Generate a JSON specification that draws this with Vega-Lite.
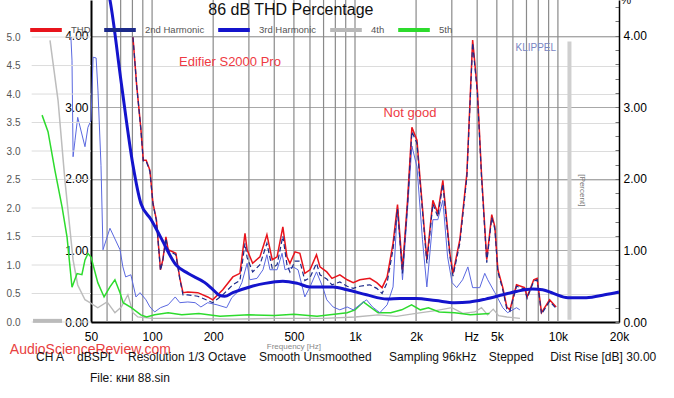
{
"$schema":"https://vega.github.io/schema/vega-lite/v6.json",
"width":528,"height":322,
"autosize":{"type":"none"},
"padding":{"left":91,"top":0,"right":55,"bottom":76},
"background":"#ffffff",
"config":{"view":{"stroke":null},"font":"Liberation Sans","axis":{"labelFont":"Liberation Sans"},"legend":{"labelFont":"Liberation Sans"}},
"datasets":{
"vgrid":[{"f":60},{"f":70},{"f":80},{"f":90},{"f":100},{"f":200},{"f":300},{"f":400},{"f":500},{"f":600},{"f":700},{"f":800},{"f":900},{"f":1000},{"f":2000},{"f":3000},{"f":4000},{"f":5000},{"f":6000},{"f":7000},{"f":8000},{"f":9000},{"f":10000}],
"bar":[{"f":11400,"v":0.03,"v2":3.92}],
"h4":[{"f":50,"v":0.26},{"f":54,"v":0.2},{"f":60,"v":0.28},{"f":65.6,"v":0.13},{"f":70.5,"v":0.21},{"f":76,"v":0.38},{"f":80.5,"v":0.13},{"f":85,"v":0.07},{"f":100,"v":0.05},{"f":150,"v":0.05},{"f":250,"v":0.04},{"f":400,"v":0.05},{"f":700,"v":0.05},{"f":1000,"v":0.07},{"f":1300,"v":0.1},{"f":1600,"v":0.08},{"f":2000,"v":0.12},{"f":2500,"v":0.16},{"f":3000,"v":0.2},{"f":3400,"v":0.12},{"f":3900,"v":0.14},{"f":4200,"v":0.2},{"f":4500,"v":0.1},{"f":4800,"v":0.18},{"f":5100,"v":0.09},{"f":5600,"v":0.07},{"f":6500,"v":0.05}],
"h5":[{"f":50,"v":0.91},{"f":54,"v":0.55},{"f":58,"v":0.35},{"f":62,"v":0.49},{"f":65.6,"v":0.59},{"f":69.5,"v":0.41},{"f":72,"v":0.27},{"f":79,"v":0.2},{"f":88,"v":0.1},{"f":94,"v":0.07},{"f":103,"v":0.1},{"f":120,"v":0.13},{"f":140,"v":0.1},{"f":170,"v":0.12},{"f":216,"v":0.08},{"f":300,"v":0.1},{"f":400,"v":0.09},{"f":500,"v":0.11},{"f":650,"v":0.08},{"f":752,"v":0.1},{"f":915,"v":0.13},{"f":1000,"v":0.17},{"f":1100,"v":0.28},{"f":1200,"v":0.2},{"f":1300,"v":0.13},{"f":1500,"v":0.13},{"f":1700,"v":0.17},{"f":1900,"v":0.24},{"f":2100,"v":0.17},{"f":2300,"v":0.2},{"f":2600,"v":0.14},{"f":3100,"v":0.13},{"f":3700,"v":0.1},{"f":4600,"v":0.12}],
"thin":[{"f":39.8,"v":3.98},{"f":40.3,"v":3.66},{"f":40.8,"v":2.31},{"f":41.7,"v":2.54},{"f":43,"v":2.86},{"f":46.7,"v":2.45},{"f":48.3,"v":2.72},{"f":50,"v":2.82},{"f":51.2,"v":3.7},{"f":53,"v":3.69},{"f":54.1,"v":3.24},{"f":56,"v":2.19},{"f":57.3,"v":1.01},{"f":62,"v":1.31},{"f":69.5,"v":1.01},{"f":71.8,"v":0.77},{"f":74.1,"v":0.63},{"f":78.6,"v":0.66},{"f":83.3,"v":0.35},{"f":87.2,"v":0.41},{"f":93.3,"v":0.31},{"f":97.6,"v":0.21},{"f":103,"v":0.14},{"f":110,"v":0.2},{"f":120,"v":0.24},{"f":130,"v":0.35},{"f":137,"v":0.27},{"f":150,"v":0.28},{"f":163,"v":0.27},{"f":174,"v":0.21},{"f":188,"v":0.27},{"f":209,"v":0.24},{"f":233,"v":0.2},{"f":247,"v":0.34},{"f":262,"v":0.41},{"f":277,"v":0.55},{"f":294,"v":0.82},{"f":303,"v":0.59},{"f":329,"v":0.61},{"f":352,"v":0.73},{"f":368,"v":0.94},{"f":381,"v":0.73},{"f":413,"v":0.73},{"f":437,"v":0.96},{"f":452,"v":0.73},{"f":495,"v":0.77},{"f":524,"v":0.73},{"f":566,"v":0.35},{"f":600,"v":0.49},{"f":646,"v":0.7},{"f":693,"v":0.49},{"f":726,"v":0.31},{"f":780,"v":0.21},{"f":842,"v":0.17},{"f":915,"v":0.21},{"f":980,"v":0.17},{"f":1140,"v":0.31},{"f":1220,"v":0.21},{"f":1326,"v":0.13},{"f":1440,"v":0.24},{"f":1540,"v":0.49},{"f":1620,"v":1.61},{"f":1714,"v":0.59},{"f":1815,"v":1.57},{"f":1907,"v":2.46},{"f":2020,"v":2.17},{"f":2150,"v":1.15},{"f":2260,"v":0.49},{"f":2420,"v":1.43},{"f":2560,"v":1.43},{"f":2710,"v":1.7},{"f":2860,"v":0.91},{"f":3010,"v":0.55},{"f":3170,"v":0.48},{"f":3390,"v":0.59},{"f":3600,"v":0.77},{"f":3800,"v":0.48},{"f":4120,"v":0.48},{"f":4360,"v":0.68},{"f":4510,"v":0.59},{"f":4890,"v":0.41},{"f":5170,"v":0.28},{"f":5350,"v":0.2},{"f":5650,"v":0.13},{"f":6250,"v":0.2},{"f":6490,"v":0.17}],
"thd":[{"f":80.5,"v":3.98},{"f":84,"v":3.3},{"f":88,"v":2.71},{"f":90.5,"v":2.26},{"f":93.5,"v":2.26},{"f":97.6,"v":2.12},{"f":101,"v":1.66},{"f":105,"v":1.43},{"f":110,"v":0.73},{"f":113,"v":0.87},{"f":117,"v":1.19},{"f":120,"v":1.01},{"f":131,"v":0.96},{"f":137,"v":0.61},{"f":142,"v":0.41},{"f":150,"v":0.42},{"f":168,"v":0.41},{"f":188,"v":0.35},{"f":199,"v":0.31},{"f":223,"v":0.45},{"f":250,"v":0.63},{"f":271,"v":0.68},{"f":287,"v":1.24},{"f":294,"v":1.01},{"f":313,"v":0.82},{"f":340,"v":0.91},{"f":368,"v":1.22},{"f":391,"v":0.87},{"f":413,"v":0.91},{"f":441,"v":1.33},{"f":462,"v":0.91},{"f":478,"v":0.82},{"f":506,"v":0.98},{"f":535,"v":0.96},{"f":566,"v":0.68},{"f":600,"v":0.73},{"f":646,"v":0.94},{"f":672,"v":0.77},{"f":726,"v":0.7},{"f":770,"v":0.61},{"f":842,"v":0.66},{"f":915,"v":0.59},{"f":980,"v":0.55},{"f":1057,"v":0.59},{"f":1184,"v":0.61},{"f":1280,"v":0.55},{"f":1360,"v":0.48},{"f":1440,"v":0.63},{"f":1540,"v":1.1},{"f":1620,"v":1.64},{"f":1714,"v":0.73},{"f":1815,"v":1.7},{"f":1907,"v":2.72},{"f":2020,"v":2.54},{"f":2088,"v":2.03},{"f":2260,"v":0.87},{"f":2420,"v":1.7},{"f":2560,"v":1.52},{"f":2710,"v":1.98},{"f":2934,"v":0.96},{"f":3040,"v":0.68},{"f":3286,"v":1.15},{"f":3560,"v":2.08},{"f":3800,"v":3.94},{"f":4010,"v":3.24},{"f":4200,"v":2.08},{"f":4460,"v":0.87},{"f":4720,"v":1.5},{"f":4890,"v":1.33},{"f":5060,"v":0.73},{"f":5350,"v":0.48},{"f":5600,"v":0.21},{"f":5800,"v":0.17},{"f":6250,"v":0.52},{"f":6850,"v":0.48},{"f":7050,"v":0.35},{"f":7600,"v":0.59},{"f":7900,"v":0.61},{"f":8300,"v":0.13},{"f":9100,"v":0.31},{"f":9800,"v":0.21}],
"h2":[{"f":80.5,"v":3.98},{"f":84,"v":3.3},{"f":88,"v":2.7},{"f":90.5,"v":2.25},{"f":93.5,"v":2.25},{"f":97.6,"v":2.1},{"f":101,"v":1.65},{"f":105,"v":1.42},{"f":110,"v":0.72},{"f":113,"v":0.86},{"f":117,"v":1.17},{"f":120,"v":1.0},{"f":131,"v":0.94},{"f":137,"v":0.6},{"f":142,"v":0.38},{"f":150,"v":0.38},{"f":168,"v":0.36},{"f":188,"v":0.3},{"f":199,"v":0.27},{"f":223,"v":0.38},{"f":250,"v":0.52},{"f":271,"v":0.58},{"f":287,"v":1.1},{"f":294,"v":0.9},{"f":313,"v":0.7},{"f":340,"v":0.8},{"f":368,"v":1.1},{"f":391,"v":0.75},{"f":413,"v":0.8},{"f":441,"v":1.2},{"f":462,"v":0.8},{"f":478,"v":0.7},{"f":506,"v":0.85},{"f":535,"v":0.85},{"f":566,"v":0.58},{"f":600,"v":0.62},{"f":646,"v":0.82},{"f":672,"v":0.66},{"f":726,"v":0.6},{"f":770,"v":0.52},{"f":842,"v":0.56},{"f":915,"v":0.5},{"f":980,"v":0.47},{"f":1057,"v":0.5},{"f":1184,"v":0.52},{"f":1280,"v":0.47},{"f":1360,"v":0.4},{"f":1440,"v":0.55},{"f":1540,"v":1.02},{"f":1620,"v":1.58},{"f":1714,"v":0.68},{"f":1815,"v":1.65},{"f":1907,"v":2.66},{"f":2020,"v":2.5},{"f":2088,"v":1.98},{"f":2260,"v":0.82},{"f":2420,"v":1.65},{"f":2560,"v":1.47},{"f":2710,"v":1.93},{"f":2934,"v":0.92},{"f":3040,"v":0.64},{"f":3286,"v":1.1},{"f":3560,"v":2.03},{"f":3800,"v":3.9},{"f":4010,"v":3.2},{"f":4200,"v":2.04},{"f":4460,"v":0.83},{"f":4720,"v":1.46},{"f":4890,"v":1.3},{"f":5060,"v":0.7},{"f":5350,"v":0.45},{"f":5600,"v":0.18},{"f":5800,"v":0.15},{"f":6250,"v":0.5},{"f":6850,"v":0.46},{"f":7050,"v":0.33},{"f":7600,"v":0.57},{"f":7900,"v":0.59},{"f":8300,"v":0.11},{"f":9100,"v":0.29},{"f":9800,"v":0.19}],
"h3":[{"f":61,"v":4.6},{"f":62,"v":4.5},{"f":70.5,"v":3.34},{"f":80.5,"v":2.19},{"f":88,"v":1.66},{"f":99,"v":1.43},{"f":110,"v":1.19},{"f":131,"v":0.8},{"f":150,"v":0.68},{"f":182,"v":0.55},{"f":200,"v":0.45},{"f":216,"v":0.37},{"f":228,"v":0.36},{"f":250,"v":0.41},{"f":303,"v":0.49},{"f":360,"v":0.54},{"f":441,"v":0.57},{"f":520,"v":0.54},{"f":600,"v":0.49},{"f":780,"v":0.49},{"f":915,"v":0.45},{"f":1140,"v":0.38},{"f":1440,"v":0.32},{"f":1660,"v":0.33},{"f":2000,"v":0.33},{"f":2500,"v":0.3},{"f":3100,"v":0.27},{"f":3680,"v":0.28},{"f":4400,"v":0.32},{"f":5350,"v":0.38},{"f":6300,"v":0.43},{"f":7500,"v":0.46},{"f":8400,"v":0.45},{"f":9500,"v":0.4},{"f":11200,"v":0.34},{"f":13800,"v":0.34},{"f":17000,"v":0.38},{"f":20000,"v":0.42}],
"ovgrid":[{"o":0},{"o":0.5},{"o":1},{"o":1.5},{"o":2},{"o":2.5},{"o":3},{"o":3.5},{"o":4},{"o":4.5},{"o":5}],
"ovgray":[{"f":31.4,"o":4.94},{"f":34.4,"o":3.89},{"f":37.2,"o":2.48},{"f":40.8,"o":1.09},{"f":43,"o":0.65},{"f":46.7,"o":0.39},{"f":49.4,"o":0.34},{"f":50,"o":0.33}],
"ovgreen":[{"f":28.7,"o":3.63},{"f":30.7,"o":3.34},{"f":33.2,"o":2.66},{"f":36,"o":2.02},{"f":38.1,"o":1.49},{"f":40.3,"o":0.61},{"f":42.7,"o":0.85},{"f":45.1,"o":0.83},{"f":46.7,"o":1.09},{"f":48.3,"o":1.2},{"f":50,"o":1.14}],
"ovbase":[{"f":25.9,"o":0.02},{"f":36,"o":0.02}],
"title":[{"f":483,"v":4.29,"t":"86 dB THD Percentage"}],
"pct":[{"f":21600,"v":4.44,"t":"%"}],
"redtx":[{"f":242,"v":3.63,"t":"Edifier S2000 Pro"},{"f":1866,"v":2.92,"t":"Not good"}],
"klip":[{"f":7780,"v":3.83,"t":"KLIPPEL"}],
"perc":[{"f":13200,"v":1.84,"t":"[Percent]"}],
"asr":[{"f":19.9,"v":-0.39,"t":"AudioScienceReview.com"}],
"freq":[{"f":500,"v":-0.35,"t":"Frequency [Hz]"}],
"info":[{"f":26.8,"v":-0.49,"t":"CH A"},{"f":42.7,"v":-0.49,"t":"dBSPL"},{"f":76.1,"v":-0.49,"t":"Resolution 1/3 Octave"},{"f":336,"v":-0.49,"t":"Smooth Unsmoothed"},{"f":1471,"v":-0.49,"t":"Sampling 96kHz"},{"f":4567,"v":-0.49,"t":"Stepped"},{"f":9160,"v":-0.49,"t":"Dist Rise [dB] 30.00"}],
"file":[{"f":49.4,"v":-0.78,"t":"File: кни 88.sin"}]
},
"layer":[
{"layer":[
 {"data":{"name":"vgrid"},"mark":{"type":"rule","color":"#8a8a8a","strokeWidth":1.2},
  "encoding":{"x":{"field":"f","type":"quantitative","scale":{"type":"log","domain":[50,20000],"nice":false},"axis":{"orient":"bottom","values":[50,100,200,500,1000,2000,3740,5000,10000,20000],"labelExpr":"datum.value == 3740 ? 'Hz' : datum.value >= 1000 ? format(datum.value/1000,'d') + 'k' : format(datum.value,'d')","ticks":false,"grid":false,"domainColor":"#000000","domainWidth":2,"labelPadding":9,"labelFontSize":12,"labelColor":"#000000","labelFlush":false,"labelOverlap":false,"title":null}}}},
 {"data":{"name":"bar"},"mark":{"type":"rule","color":"#cfcfcf","strokeWidth":4},
  "encoding":{"x":{"field":"f","type":"quantitative","scale":{"type":"log","domain":[50,20000],"nice":false},"axis":{"orient":"bottom","values":[50,100,200,500,1000,2000,3740,5000,10000,20000],"labelExpr":"datum.value == 3740 ? 'Hz' : datum.value >= 1000 ? format(datum.value/1000,'d') + 'k' : format(datum.value,'d')","ticks":false,"grid":false,"domainColor":"#000000","domainWidth":2,"labelPadding":9,"labelFontSize":12,"labelColor":"#000000","labelFlush":false,"labelOverlap":false,"title":null}},
   "y":{"field":"v","type":"quantitative","scale":{"domain":[0,4.5],"nice":false,"zero":false},"axis":{"orient":"left","values":[0,1,2,3,4],"format":".2f","labelFontSize":12,"labelColor":"#000000","domainColor":"#000000","domainWidth":2,"ticks":false,"labelPadding":3,"grid":true,"gridColor":"#a8a8a8","title":null}},"y2":{"field":"v2"}}},
 {"data":{"name":"h4"},"mark":{"type":"line","strokeWidth":1.3},
  "encoding":{"x":{"field":"f","type":"quantitative","scale":{"type":"log","domain":[50,20000],"nice":false},"axis":{"orient":"bottom","values":[50,100,200,500,1000,2000,3740,5000,10000,20000],"labelExpr":"datum.value == 3740 ? 'Hz' : datum.value >= 1000 ? format(datum.value/1000,'d') + 'k' : format(datum.value,'d')","ticks":false,"grid":false,"domainColor":"#000000","domainWidth":2,"labelPadding":9,"labelFontSize":12,"labelColor":"#000000","labelFlush":false,"labelOverlap":false,"title":null}},
   "y":{"field":"v","type":"quantitative","scale":{"domain":[0,4.5],"nice":false,"zero":false},"axis":{"orient":"left","values":[0,1,2,3,4],"format":".2f","labelFontSize":12,"labelColor":"#000000","domainColor":"#000000","domainWidth":2,"ticks":false,"labelPadding":3,"grid":true,"gridColor":"#a8a8a8","title":null}},
   "color":{"datum":"4th","scale":{"domain":["THD","2nd Harmonic","3rd Harmonic","4th","5th"],"range":["#e8141c","#1c2a8a","#1414cc","#b8b8b8","#2ddb2d"]},
    "legend":{"title":null,"orient":"none","legendX":-63,"legendY":12,"direction":"horizontal","symbolType":"stroke","symbolSize":1000,"symbolStrokeWidth":4,"labelFontSize":9.5,"labelColor":"#555555","labelOffset":7,"columnPadding":5,
     "encode":{"symbols":{"update":{"strokeDash":{"value":{"signal":"datum.value === '2nd Harmonic' ? [8,4] : datum.value === '4th' ? [10,4] : datum.value === '5th' ? [12,7] : [1,0]"}}}}}}}}},
 {"data":{"name":"h5"},"mark":{"type":"line","strokeWidth":1.5},
  "encoding":{"x":{"field":"f","type":"quantitative","scale":{"type":"log","domain":[50,20000],"nice":false},"axis":{"orient":"bottom","values":[50,100,200,500,1000,2000,3740,5000,10000,20000],"labelExpr":"datum.value == 3740 ? 'Hz' : datum.value >= 1000 ? format(datum.value/1000,'d') + 'k' : format(datum.value,'d')","ticks":false,"grid":false,"domainColor":"#000000","domainWidth":2,"labelPadding":9,"labelFontSize":12,"labelColor":"#000000","labelFlush":false,"labelOverlap":false,"title":null}},
   "y":{"field":"v","type":"quantitative","scale":{"domain":[0,4.5],"nice":false,"zero":false},"axis":{"orient":"left","values":[0,1,2,3,4],"format":".2f","labelFontSize":12,"labelColor":"#000000","domainColor":"#000000","domainWidth":2,"ticks":false,"labelPadding":3,"grid":true,"gridColor":"#a8a8a8","title":null}},
   "color":{"datum":"5th","scale":{"domain":["THD","2nd Harmonic","3rd Harmonic","4th","5th"],"range":["#e8141c","#1c2a8a","#1414cc","#b8b8b8","#2ddb2d"]}}}},
 {"data":{"name":"thin"},"mark":{"type":"line","strokeWidth":1,"color":"#5a68e0"},
  "encoding":{"x":{"field":"f","type":"quantitative","scale":{"type":"log","domain":[50,20000],"nice":false},"axis":{"orient":"bottom","values":[50,100,200,500,1000,2000,3740,5000,10000,20000],"labelExpr":"datum.value == 3740 ? 'Hz' : datum.value >= 1000 ? format(datum.value/1000,'d') + 'k' : format(datum.value,'d')","ticks":false,"grid":false,"domainColor":"#000000","domainWidth":2,"labelPadding":9,"labelFontSize":12,"labelColor":"#000000","labelFlush":false,"labelOverlap":false,"title":null}},
   "y":{"field":"v","type":"quantitative","scale":{"domain":[0,4.5],"nice":false,"zero":false},"axis":{"orient":"left","values":[0,1,2,3,4],"format":".2f","labelFontSize":12,"labelColor":"#000000","domainColor":"#000000","domainWidth":2,"ticks":false,"labelPadding":3,"grid":true,"gridColor":"#a8a8a8","title":null}}}},
 {"data":{"name":"thd"},"mark":{"type":"line","strokeWidth":1.5},
  "encoding":{"x":{"field":"f","type":"quantitative","scale":{"type":"log","domain":[50,20000],"nice":false},"axis":{"orient":"bottom","values":[50,100,200,500,1000,2000,3740,5000,10000,20000],"labelExpr":"datum.value == 3740 ? 'Hz' : datum.value >= 1000 ? format(datum.value/1000,'d') + 'k' : format(datum.value,'d')","ticks":false,"grid":false,"domainColor":"#000000","domainWidth":2,"labelPadding":9,"labelFontSize":12,"labelColor":"#000000","labelFlush":false,"labelOverlap":false,"title":null}},
   "y":{"field":"v","type":"quantitative","scale":{"domain":[0,4.5],"nice":false,"zero":false},"axis":{"orient":"left","values":[0,1,2,3,4],"format":".2f","labelFontSize":12,"labelColor":"#000000","domainColor":"#000000","domainWidth":2,"ticks":false,"labelPadding":3,"grid":true,"gridColor":"#a8a8a8","title":null}},
   "color":{"datum":"THD","scale":{"domain":["THD","2nd Harmonic","3rd Harmonic","4th","5th"],"range":["#e8141c","#1c2a8a","#1414cc","#b8b8b8","#2ddb2d"]}}}},
 {"data":{"name":"h2"},"mark":{"type":"line","strokeWidth":1.2,"strokeDash":[5,3]},
  "encoding":{"x":{"field":"f","type":"quantitative","scale":{"type":"log","domain":[50,20000],"nice":false},"axis":{"orient":"bottom","values":[50,100,200,500,1000,2000,3740,5000,10000,20000],"labelExpr":"datum.value == 3740 ? 'Hz' : datum.value >= 1000 ? format(datum.value/1000,'d') + 'k' : format(datum.value,'d')","ticks":false,"grid":false,"domainColor":"#000000","domainWidth":2,"labelPadding":9,"labelFontSize":12,"labelColor":"#000000","labelFlush":false,"labelOverlap":false,"title":null}},
   "y":{"field":"v","type":"quantitative","scale":{"domain":[0,4.5],"nice":false,"zero":false},"axis":{"orient":"left","values":[0,1,2,3,4],"format":".2f","labelFontSize":12,"labelColor":"#000000","domainColor":"#000000","domainWidth":2,"ticks":false,"labelPadding":3,"grid":true,"gridColor":"#a8a8a8","title":null}},
   "color":{"datum":"2nd Harmonic","scale":{"domain":["THD","2nd Harmonic","3rd Harmonic","4th","5th"],"range":["#e8141c","#1c2a8a","#1414cc","#b8b8b8","#2ddb2d"]}}}},
 {"data":{"name":"h3"},"mark":{"type":"line","strokeWidth":3,"interpolate":"monotone"},
  "encoding":{"x":{"field":"f","type":"quantitative","scale":{"type":"log","domain":[50,20000],"nice":false},"axis":{"orient":"bottom","values":[50,100,200,500,1000,2000,3740,5000,10000,20000],"labelExpr":"datum.value == 3740 ? 'Hz' : datum.value >= 1000 ? format(datum.value/1000,'d') + 'k' : format(datum.value,'d')","ticks":false,"grid":false,"domainColor":"#000000","domainWidth":2,"labelPadding":9,"labelFontSize":12,"labelColor":"#000000","labelFlush":false,"labelOverlap":false,"title":null}},
   "y":{"field":"v","type":"quantitative","scale":{"domain":[0,4.5],"nice":false,"zero":false},"axis":{"orient":"left","values":[0,1,2,3,4],"format":".2f","labelFontSize":12,"labelColor":"#000000","domainColor":"#000000","domainWidth":2,"ticks":false,"labelPadding":3,"grid":true,"gridColor":"#a8a8a8","title":null}},
   "color":{"datum":"3rd Harmonic","scale":{"domain":["THD","2nd Harmonic","3rd Harmonic","4th","5th"],"range":["#e8141c","#1c2a8a","#1414cc","#b8b8b8","#2ddb2d"]}}}}
]},
{"layer":[
 {"data":{"name":"ovgrid"},"mark":{"type":"rule","color":"#dcdcdc","strokeWidth":1},
  "encoding":{"x":{"datum":25.5,"type":"quantitative","scale":{"type":"log","domain":[50,20000],"nice":false},"axis":{"orient":"bottom","values":[50,100,200,500,1000,2000,3740,5000,10000,20000],"labelExpr":"datum.value == 3740 ? 'Hz' : datum.value >= 1000 ? format(datum.value/1000,'d') + 'k' : format(datum.value,'d')","ticks":false,"grid":false,"domainColor":"#000000","domainWidth":2,"labelPadding":9,"labelFontSize":12,"labelColor":"#000000","labelFlush":false,"labelOverlap":false,"title":null}},"x2":{"datum":50},
   "y":{"field":"o","type":"quantitative","scale":{"domain":[0,5.65],"nice":false,"zero":false},
     "axis":{"orient":"left","values":[0,0.5,1,1.5,2,2.5,3,3.5,4,4.5,5],"format":".1f","offset":71,"domain":false,"ticks":false,"labelPadding":0,"labelFontSize":10,"labelColor":"#555555","grid":true,"gridColor":"#dcdcdc","title":null}}}},
 {"data":{"name":"ovbase"},"mark":{"type":"line","color":"#bbbbbb","strokeWidth":4},
  "encoding":{"x":{"field":"f","type":"quantitative","scale":{"type":"log","domain":[50,20000],"nice":false},"axis":{"orient":"bottom","values":[50,100,200,500,1000,2000,3740,5000,10000,20000],"labelExpr":"datum.value == 3740 ? 'Hz' : datum.value >= 1000 ? format(datum.value/1000,'d') + 'k' : format(datum.value,'d')","ticks":false,"grid":false,"domainColor":"#000000","domainWidth":2,"labelPadding":9,"labelFontSize":12,"labelColor":"#000000","labelFlush":false,"labelOverlap":false,"title":null}},
   "y":{"field":"o","type":"quantitative","scale":{"domain":[0,5.65],"nice":false,"zero":false},"axis":{"orient":"left","values":[0,0.5,1,1.5,2,2.5,3,3.5,4,4.5,5],"format":".1f","offset":71,"domain":false,"ticks":false,"labelPadding":0,"labelFontSize":10,"labelColor":"#555555","grid":true,"gridColor":"#dcdcdc","title":null}}}},
 {"data":{"name":"ovgray"},"mark":{"type":"line","color":"#bdbdbd","strokeWidth":1.5},
  "encoding":{"x":{"field":"f","type":"quantitative","scale":{"type":"log","domain":[50,20000],"nice":false},"axis":{"orient":"bottom","values":[50,100,200,500,1000,2000,3740,5000,10000,20000],"labelExpr":"datum.value == 3740 ? 'Hz' : datum.value >= 1000 ? format(datum.value/1000,'d') + 'k' : format(datum.value,'d')","ticks":false,"grid":false,"domainColor":"#000000","domainWidth":2,"labelPadding":9,"labelFontSize":12,"labelColor":"#000000","labelFlush":false,"labelOverlap":false,"title":null}},
   "y":{"field":"o","type":"quantitative","scale":{"domain":[0,5.65],"nice":false,"zero":false},"axis":{"orient":"left","values":[0,0.5,1,1.5,2,2.5,3,3.5,4,4.5,5],"format":".1f","offset":71,"domain":false,"ticks":false,"labelPadding":0,"labelFontSize":10,"labelColor":"#555555","grid":true,"gridColor":"#dcdcdc","title":null}}}},
 {"data":{"name":"ovgreen"},"mark":{"type":"line","color":"#2ddb2d","strokeWidth":1.5},
  "encoding":{"x":{"field":"f","type":"quantitative","scale":{"type":"log","domain":[50,20000],"nice":false},"axis":{"orient":"bottom","values":[50,100,200,500,1000,2000,3740,5000,10000,20000],"labelExpr":"datum.value == 3740 ? 'Hz' : datum.value >= 1000 ? format(datum.value/1000,'d') + 'k' : format(datum.value,'d')","ticks":false,"grid":false,"domainColor":"#000000","domainWidth":2,"labelPadding":9,"labelFontSize":12,"labelColor":"#000000","labelFlush":false,"labelOverlap":false,"title":null}},
   "y":{"field":"o","type":"quantitative","scale":{"domain":[0,5.65],"nice":false,"zero":false},"axis":{"orient":"left","values":[0,0.5,1,1.5,2,2.5,3,3.5,4,4.5,5],"format":".1f","offset":71,"domain":false,"ticks":false,"labelPadding":0,"labelFontSize":10,"labelColor":"#555555","grid":true,"gridColor":"#dcdcdc","title":null}}}}
]},
{"layer":[
 {"data":{"name":"title"},"mark":{"type":"text","fontSize":16,"baseline":"alphabetic","align":"center","color":"#111111"},
  "encoding":{"x":{"field":"f","type":"quantitative","scale":{"type":"log","domain":[50,20000],"nice":false},"axis":{"orient":"bottom","values":[50,100,200,500,1000,2000,3740,5000,10000,20000],"labelExpr":"datum.value == 3740 ? 'Hz' : datum.value >= 1000 ? format(datum.value/1000,'d') + 'k' : format(datum.value,'d')","ticks":false,"grid":false,"domainColor":"#000000","domainWidth":2,"labelPadding":9,"labelFontSize":12,"labelColor":"#000000","labelFlush":false,"labelOverlap":false,"title":null}},
   "y":{"field":"v","type":"quantitative","scale":{"domain":[0,4.5],"nice":false,"zero":false},"axis":{"orient":"right","values":[0,0.2,0.4,0.6,0.8,1,1.2,1.4,1.6,1.8,2,2.2,2.4,2.6,2.8,3,3.2,3.4,3.6,3.8,4,4.2,4.4],"labelExpr":"datum.value % 1 == 0 ? format(datum.value,'.2f') : ''","tickSize":-4,"tickColor":"#777777","domainColor":"#000000","domainWidth":1.5,"labelPadding":8,"labelFontSize":12,"labelColor":"#000000","grid":false,"title":null,"labelOverlap":false}},
   "text":{"field":"t"}}},
 {"data":{"name":"pct"},"mark":{"type":"text","fontSize":12,"baseline":"alphabetic","align":"center","color":"#111111"},
  "encoding":{"x":{"field":"f","type":"quantitative","scale":{"type":"log","domain":[50,20000],"nice":false},"axis":{"orient":"bottom","values":[50,100,200,500,1000,2000,3740,5000,10000,20000],"labelExpr":"datum.value == 3740 ? 'Hz' : datum.value >= 1000 ? format(datum.value/1000,'d') + 'k' : format(datum.value,'d')","ticks":false,"grid":false,"domainColor":"#000000","domainWidth":2,"labelPadding":9,"labelFontSize":12,"labelColor":"#000000","labelFlush":false,"labelOverlap":false,"title":null}},
   "y":{"field":"v","type":"quantitative","scale":{"domain":[0,4.5],"nice":false,"zero":false},"axis":{"orient":"right","values":[0,0.2,0.4,0.6,0.8,1,1.2,1.4,1.6,1.8,2,2.2,2.4,2.6,2.8,3,3.2,3.4,3.6,3.8,4,4.2,4.4],"labelExpr":"datum.value % 1 == 0 ? format(datum.value,'.2f') : ''","tickSize":-4,"tickColor":"#777777","domainColor":"#000000","domainWidth":1.5,"labelPadding":8,"labelFontSize":12,"labelColor":"#000000","grid":false,"title":null,"labelOverlap":false}},"text":{"field":"t"}}},
 {"data":{"name":"redtx"},"mark":{"type":"text","fontSize":13,"baseline":"middle","align":"center","color":"#ee3a43"},
  "encoding":{"x":{"field":"f","type":"quantitative","scale":{"type":"log","domain":[50,20000],"nice":false},"axis":{"orient":"bottom","values":[50,100,200,500,1000,2000,3740,5000,10000,20000],"labelExpr":"datum.value == 3740 ? 'Hz' : datum.value >= 1000 ? format(datum.value/1000,'d') + 'k' : format(datum.value,'d')","ticks":false,"grid":false,"domainColor":"#000000","domainWidth":2,"labelPadding":9,"labelFontSize":12,"labelColor":"#000000","labelFlush":false,"labelOverlap":false,"title":null}},
   "y":{"field":"v","type":"quantitative","scale":{"domain":[0,4.5],"nice":false,"zero":false},"axis":{"orient":"right","values":[0,0.2,0.4,0.6,0.8,1,1.2,1.4,1.6,1.8,2,2.2,2.4,2.6,2.8,3,3.2,3.4,3.6,3.8,4,4.2,4.4],"labelExpr":"datum.value % 1 == 0 ? format(datum.value,'.2f') : ''","tickSize":-4,"tickColor":"#777777","domainColor":"#000000","domainWidth":1.5,"labelPadding":8,"labelFontSize":12,"labelColor":"#000000","grid":false,"title":null,"labelOverlap":false}},"text":{"field":"t"}}},
 {"data":{"name":"klip"},"mark":{"type":"text","fontSize":10,"baseline":"middle","align":"center","color":"#7a86c2"},
  "encoding":{"x":{"field":"f","type":"quantitative","scale":{"type":"log","domain":[50,20000],"nice":false},"axis":{"orient":"bottom","values":[50,100,200,500,1000,2000,3740,5000,10000,20000],"labelExpr":"datum.value == 3740 ? 'Hz' : datum.value >= 1000 ? format(datum.value/1000,'d') + 'k' : format(datum.value,'d')","ticks":false,"grid":false,"domainColor":"#000000","domainWidth":2,"labelPadding":9,"labelFontSize":12,"labelColor":"#000000","labelFlush":false,"labelOverlap":false,"title":null}},
   "y":{"field":"v","type":"quantitative","scale":{"domain":[0,4.5],"nice":false,"zero":false},"axis":{"orient":"right","values":[0,0.2,0.4,0.6,0.8,1,1.2,1.4,1.6,1.8,2,2.2,2.4,2.6,2.8,3,3.2,3.4,3.6,3.8,4,4.2,4.4],"labelExpr":"datum.value % 1 == 0 ? format(datum.value,'.2f') : ''","tickSize":-4,"tickColor":"#777777","domainColor":"#000000","domainWidth":1.5,"labelPadding":8,"labelFontSize":12,"labelColor":"#000000","grid":false,"title":null,"labelOverlap":false}},"text":{"field":"t"}}},
 {"data":{"name":"perc"},"mark":{"type":"text","fontSize":8,"baseline":"middle","align":"center","angle":90,"color":"#777777"},
  "encoding":{"x":{"field":"f","type":"quantitative","scale":{"type":"log","domain":[50,20000],"nice":false},"axis":{"orient":"bottom","values":[50,100,200,500,1000,2000,3740,5000,10000,20000],"labelExpr":"datum.value == 3740 ? 'Hz' : datum.value >= 1000 ? format(datum.value/1000,'d') + 'k' : format(datum.value,'d')","ticks":false,"grid":false,"domainColor":"#000000","domainWidth":2,"labelPadding":9,"labelFontSize":12,"labelColor":"#000000","labelFlush":false,"labelOverlap":false,"title":null}},
   "y":{"field":"v","type":"quantitative","scale":{"domain":[0,4.5],"nice":false,"zero":false},"axis":{"orient":"right","values":[0,0.2,0.4,0.6,0.8,1,1.2,1.4,1.6,1.8,2,2.2,2.4,2.6,2.8,3,3.2,3.4,3.6,3.8,4,4.2,4.4],"labelExpr":"datum.value % 1 == 0 ? format(datum.value,'.2f') : ''","tickSize":-4,"tickColor":"#777777","domainColor":"#000000","domainWidth":1.5,"labelPadding":8,"labelFontSize":12,"labelColor":"#000000","grid":false,"title":null,"labelOverlap":false}},"text":{"field":"t"}}},
 {"data":{"name":"asr"},"mark":{"type":"text","fontSize":14,"baseline":"middle","align":"left","color":"#e84040"},
  "encoding":{"x":{"field":"f","type":"quantitative","scale":{"type":"log","domain":[50,20000],"nice":false},"axis":{"orient":"bottom","values":[50,100,200,500,1000,2000,3740,5000,10000,20000],"labelExpr":"datum.value == 3740 ? 'Hz' : datum.value >= 1000 ? format(datum.value/1000,'d') + 'k' : format(datum.value,'d')","ticks":false,"grid":false,"domainColor":"#000000","domainWidth":2,"labelPadding":9,"labelFontSize":12,"labelColor":"#000000","labelFlush":false,"labelOverlap":false,"title":null}},
   "y":{"field":"v","type":"quantitative","scale":{"domain":[0,4.5],"nice":false,"zero":false},"axis":{"orient":"right","values":[0,0.2,0.4,0.6,0.8,1,1.2,1.4,1.6,1.8,2,2.2,2.4,2.6,2.8,3,3.2,3.4,3.6,3.8,4,4.2,4.4],"labelExpr":"datum.value % 1 == 0 ? format(datum.value,'.2f') : ''","tickSize":-4,"tickColor":"#777777","domainColor":"#000000","domainWidth":1.5,"labelPadding":8,"labelFontSize":12,"labelColor":"#000000","grid":false,"title":null,"labelOverlap":false}},"text":{"field":"t"}}},
 {"data":{"name":"freq"},"mark":{"type":"text","fontSize":8,"baseline":"middle","align":"center","color":"#888888"},
  "encoding":{"x":{"field":"f","type":"quantitative","scale":{"type":"log","domain":[50,20000],"nice":false},"axis":{"orient":"bottom","values":[50,100,200,500,1000,2000,3740,5000,10000,20000],"labelExpr":"datum.value == 3740 ? 'Hz' : datum.value >= 1000 ? format(datum.value/1000,'d') + 'k' : format(datum.value,'d')","ticks":false,"grid":false,"domainColor":"#000000","domainWidth":2,"labelPadding":9,"labelFontSize":12,"labelColor":"#000000","labelFlush":false,"labelOverlap":false,"title":null}},
   "y":{"field":"v","type":"quantitative","scale":{"domain":[0,4.5],"nice":false,"zero":false},"axis":{"orient":"right","values":[0,0.2,0.4,0.6,0.8,1,1.2,1.4,1.6,1.8,2,2.2,2.4,2.6,2.8,3,3.2,3.4,3.6,3.8,4,4.2,4.4],"labelExpr":"datum.value % 1 == 0 ? format(datum.value,'.2f') : ''","tickSize":-4,"tickColor":"#777777","domainColor":"#000000","domainWidth":1.5,"labelPadding":8,"labelFontSize":12,"labelColor":"#000000","grid":false,"title":null,"labelOverlap":false}},"text":{"field":"t"}}},
 {"data":{"name":"info"},"mark":{"type":"text","fontSize":12,"baseline":"middle","align":"left","color":"#111111"},
  "encoding":{"x":{"field":"f","type":"quantitative","scale":{"type":"log","domain":[50,20000],"nice":false},"axis":{"orient":"bottom","values":[50,100,200,500,1000,2000,3740,5000,10000,20000],"labelExpr":"datum.value == 3740 ? 'Hz' : datum.value >= 1000 ? format(datum.value/1000,'d') + 'k' : format(datum.value,'d')","ticks":false,"grid":false,"domainColor":"#000000","domainWidth":2,"labelPadding":9,"labelFontSize":12,"labelColor":"#000000","labelFlush":false,"labelOverlap":false,"title":null}},
   "y":{"field":"v","type":"quantitative","scale":{"domain":[0,4.5],"nice":false,"zero":false},"axis":{"orient":"right","values":[0,0.2,0.4,0.6,0.8,1,1.2,1.4,1.6,1.8,2,2.2,2.4,2.6,2.8,3,3.2,3.4,3.6,3.8,4,4.2,4.4],"labelExpr":"datum.value % 1 == 0 ? format(datum.value,'.2f') : ''","tickSize":-4,"tickColor":"#777777","domainColor":"#000000","domainWidth":1.5,"labelPadding":8,"labelFontSize":12,"labelColor":"#000000","grid":false,"title":null,"labelOverlap":false}},"text":{"field":"t"}}},
 {"data":{"name":"file"},"mark":{"type":"text","fontSize":12,"baseline":"middle","align":"left","color":"#111111"},
  "encoding":{"x":{"field":"f","type":"quantitative","scale":{"type":"log","domain":[50,20000],"nice":false},"axis":{"orient":"bottom","values":[50,100,200,500,1000,2000,3740,5000,10000,20000],"labelExpr":"datum.value == 3740 ? 'Hz' : datum.value >= 1000 ? format(datum.value/1000,'d') + 'k' : format(datum.value,'d')","ticks":false,"grid":false,"domainColor":"#000000","domainWidth":2,"labelPadding":9,"labelFontSize":12,"labelColor":"#000000","labelFlush":false,"labelOverlap":false,"title":null}},
   "y":{"field":"v","type":"quantitative","scale":{"domain":[0,4.5],"nice":false,"zero":false},"axis":{"orient":"right","values":[0,0.2,0.4,0.6,0.8,1,1.2,1.4,1.6,1.8,2,2.2,2.4,2.6,2.8,3,3.2,3.4,3.6,3.8,4,4.2,4.4],"labelExpr":"datum.value % 1 == 0 ? format(datum.value,'.2f') : ''","tickSize":-4,"tickColor":"#777777","domainColor":"#000000","domainWidth":1.5,"labelPadding":8,"labelFontSize":12,"labelColor":"#000000","grid":false,"title":null,"labelOverlap":false}},"text":{"field":"t"}}}
]}
],
"resolve":{"scale":{"y":"independent"}}
}
